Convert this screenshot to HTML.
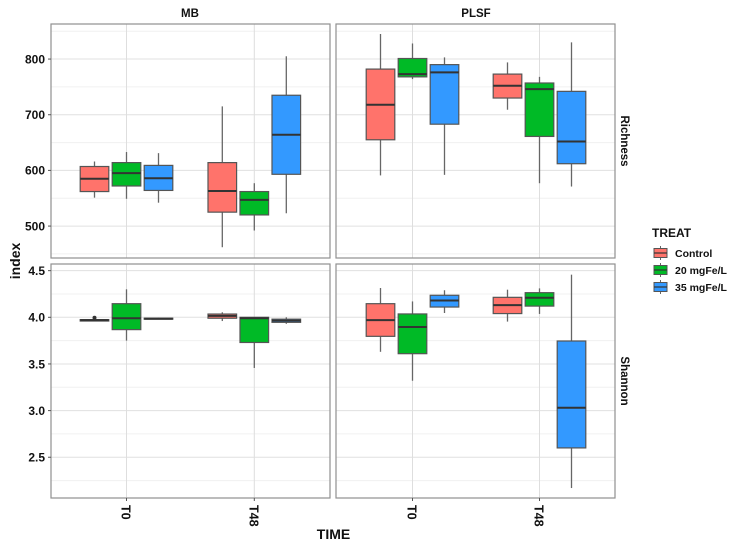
<!DOCTYPE html>
<html>
<head>
<meta charset="utf-8">
<title>Boxplots of Richness and Shannon index</title>
<style>
html,body{margin:0;padding:0;background:#fff;width:735px;height:549px;overflow:hidden}
svg{display:block;font-family:"Liberation Sans",sans-serif;font-weight:bold;fill:#111;filter:blur(0.35px)}
</style>
</head>
<body>
<svg id="chart" width="735" height="549" viewBox="0 0 735 549" xmlns="http://www.w3.org/2000/svg"></svg>
<script>
const timeCategories = ['T0', 'T48'];
const treatCategories = ['Control', '20 mgFe/L', '35 mgFe/L'];
const richnessTicks = [500, 600, 700, 800];
const richnessMinorTicks = [450, 550, 650, 750, 850];
const shannonTicks = [2.5, 3.0, 3.5, 4.0, 4.5];
const shannonMinorTicks = [2.25, 2.75, 3.25, 3.75, 4.25];
// Each row: low whisker, q1, median, q3, high whisker (T0 x 3 treatments, then T48 x 3 treatments)
const richnessMB = [
  [551, 562, 585, 607, 616], [549, 572, 595, 614, 633], [542, 564, 586, 609, 631],
  [462, 525, 563, 614, 715], [492, 520, 547, 562, 577], [523, 593, 664, 735, 805]
];
const richnessPLSF = [
  [591, 655, 718, 782, 845], [764, 768, 773, 801, 828], [592, 683, 776, 790, 803],
  [709, 730, 752, 773, 794], [577, 661, 746, 757, 768], [571, 612, 652, 742, 830]
];
const shannonMB = [
  [3.96, 3.96, 3.97, 3.975, 3.98], [3.75, 3.868, 3.99, 4.146, 4.30], [3.98, 3.98, 3.985, 3.99, 3.995],
  [3.96, 3.99, 4.015, 4.035, 4.054], [3.457, 3.73, 3.99, 4.0, 4.0], [3.93, 3.946, 3.965, 3.98, 4.0]
];
const shannonPLSF = [
  [3.63, 3.796, 3.97, 4.146, 4.314], [3.32, 3.61, 3.896, 4.036, 4.17], [4.046, 4.11, 4.18, 4.236, 4.29],
  [3.954, 4.04, 4.13, 4.214, 4.296], [4.036, 4.12, 4.21, 4.264, 4.31], [2.17, 2.6, 3.03, 3.746, 4.457]
];
const shannonMBOutliers = [[0, 3.995]];

const NS = 'http://www.w3.org/2000/svg';
const svg = document.getElementById('chart');
const fills = ['#FF736B', '#00BA26', '#3399FF'];
const yRichness = v => 170.4 + (600 - v) * 0.5567;
const yShannon = v => 317.3 + (4 - v) * 93.3;
const xMB = (t, g) => 126.5 + t * 127.8 + g * 32;
const xPLSF = (t, g) => 412.5 + t * 127.0 + g * 32;

function make(tag, attrs, parent, text) {
  const el = document.createElementNS(NS, tag);
  for (const k in attrs) el.setAttribute(k, attrs[k]);
  if (text !== undefined) el.textContent = text;
  (parent || svg).appendChild(el);
  return el;
}

function drawPanel(name, left, top, w, h, xFn, yFn, ticks, minor, stats, outliers) {
  const g = make('g', {});
  
  
  make('rect', {x: left, y: top, width: w, height: h, fill: '#fff', stroke: 'none'}, g);
  minor.forEach(v => {
    const line = make('line', {x1: left, x2: left + w, y1: yFn(v), y2: yFn(v), stroke: '#f0f0f0', 'stroke-width': 1}, g);
    
    
  });
  ticks.forEach(v => {
    const line = make('line', {x1: left, x2: left + w, y1: yFn(v), y2: yFn(v), stroke: '#e0e0e0', 'stroke-width': 1}, g);
    
    
  });
  timeCategories.forEach((c, t) => {
    const line = make('line', {x1: xFn(t, 0), x2: xFn(t, 0), y1: top, y2: top + h, stroke: '#dedede', 'stroke-width': 1}, g);
    
    
  });
  stats.forEach((s, i) => {
    const t = Math.floor(i / 3), tr = i % 3;
    const cx = xFn(t, tr - 1);
    const box = make('g', {}, g);
    
    
    make('line', {x1: cx, x2: cx, y1: yFn(s[4]), y2: yFn(s[3]), stroke: '#666', 'stroke-width': 1.3}, box);
    make('line', {x1: cx, x2: cx, y1: yFn(s[1]), y2: yFn(s[0]), stroke: '#666', 'stroke-width': 1.3}, box);
    make('rect', {x: cx - 14.3, y: yFn(s[3]), width: 28.6, height: Math.max(yFn(s[1]) - yFn(s[3]), 0.4), fill: fills[tr], stroke: '#555', 'stroke-width': 1.2}, box);
    make('line', {x1: cx - 14.3, x2: cx + 14.3, y1: yFn(s[2]), y2: yFn(s[2]), stroke: '#333', 'stroke-width': 2}, box);
  });
  (outliers || []).forEach(o => {
    const dot = make('circle', {cx: xFn(0, o[0] - 1), cy: yFn(o[1]), r: 2, fill: '#333'}, g);
    
    
  });
  const frame = make('rect', {x: left, y: top, width: w, height: h, fill: 'none', stroke: '#909090', 'stroke-width': 1.2}, g);
  
  
}

function drawYAxis(name, left, yFn, ticks, fmt) {
  ticks.forEach(v => {
    const y = yFn(v);
    const tick = make('line', {x1: left - 3, x2: left, y1: y, y2: y, stroke: '#555', 'stroke-width': 1});
    
    
    const label = make('text', {x: left - 6, y: y + 4.3, 'text-anchor': 'end', 'font-size': 12}, svg, fmt(v));
    
    
  });
}

function drawXAxis(name, xFn, bottom) {
  timeCategories.forEach((c, t) => {
    const x = xFn(t, 0);
    const tick = make('line', {x1: x, x2: x, y1: bottom, y2: bottom + 3, stroke: '#555', 'stroke-width': 1});
    
    
    const label = make('text', {transform: 'translate(' + (x - 5) + ',' + (bottom + 7) + ') rotate(90)', 'font-size': 12.5}, svg, c);
    
    
  });
}

drawPanel('richness-mb', 51, 24, 279, 234, xMB, yRichness, richnessTicks, richnessMinorTicks, richnessMB);
drawPanel('richness-plsf', 336, 24, 279, 234, xPLSF, yRichness, richnessTicks, richnessMinorTicks, richnessPLSF);
drawPanel('shannon-mb', 51, 264, 279, 234, xMB, yShannon, shannonTicks, shannonMinorTicks, shannonMB, shannonMBOutliers);
drawPanel('shannon-plsf', 336, 264, 279, 234, xPLSF, yShannon, shannonTicks, shannonMinorTicks, shannonPLSF);

drawYAxis('richness-y-axis', 51, yRichness, richnessTicks, v => String(v));
drawYAxis('shannon-y-axis', 51, yShannon, shannonTicks, v => v.toFixed(1));
drawXAxis('mb-x-axis', xMB, 498);
drawXAxis('plsf-x-axis', xPLSF, 498);

const stripMB = make('text', {x: 190, y: 17, 'text-anchor': 'middle', 'font-size': 11.5}, svg, 'MB');


const stripPLSF = make('text', {x: 476, y: 17, 'text-anchor': 'middle', 'font-size': 11.5}, svg, 'PLSF');


const stripRich = make('text', {transform: 'translate(621,141) rotate(90)', 'text-anchor': 'middle', 'font-size': 11.5}, svg, 'Richness');


const stripShan = make('text', {transform: 'translate(621,381) rotate(90)', 'text-anchor': 'middle', 'font-size': 11.5}, svg, 'Shannon');



const yTitle = make('text', {transform: 'translate(20,261) rotate(-90)', 'text-anchor': 'middle', 'font-size': 14}, svg, 'index');


const xTitle = make('text', {x: 333.5, y: 539, 'text-anchor': 'middle', 'font-size': 14}, svg, 'TIME');



const legend = make('g', {});


const legendTitle = make('text', {x: 652, y: 237, 'font-size': 12}, legend, 'TREAT');


treatCategories.forEach((c, i) => {
  const cy = 253 + i * 17;
  const entry = make('g', {}, legend);
  
  
  make('line', {x1: 660.5, x2: 660.5, y1: cy - 7, y2: cy + 7, stroke: '#666', 'stroke-width': 1}, entry);
  make('rect', {x: 654, y: cy - 4.5, width: 13, height: 9, fill: fills[i], stroke: '#555', 'stroke-width': 1}, entry);
  make('line', {x1: 654, x2: 667, y1: cy, y2: cy, stroke: '#333', 'stroke-width': 1.2}, entry);
  make('text', {x: 675, y: cy + 4, 'font-size': 10.5}, entry, c);
});
</script>
</body>
</html>
